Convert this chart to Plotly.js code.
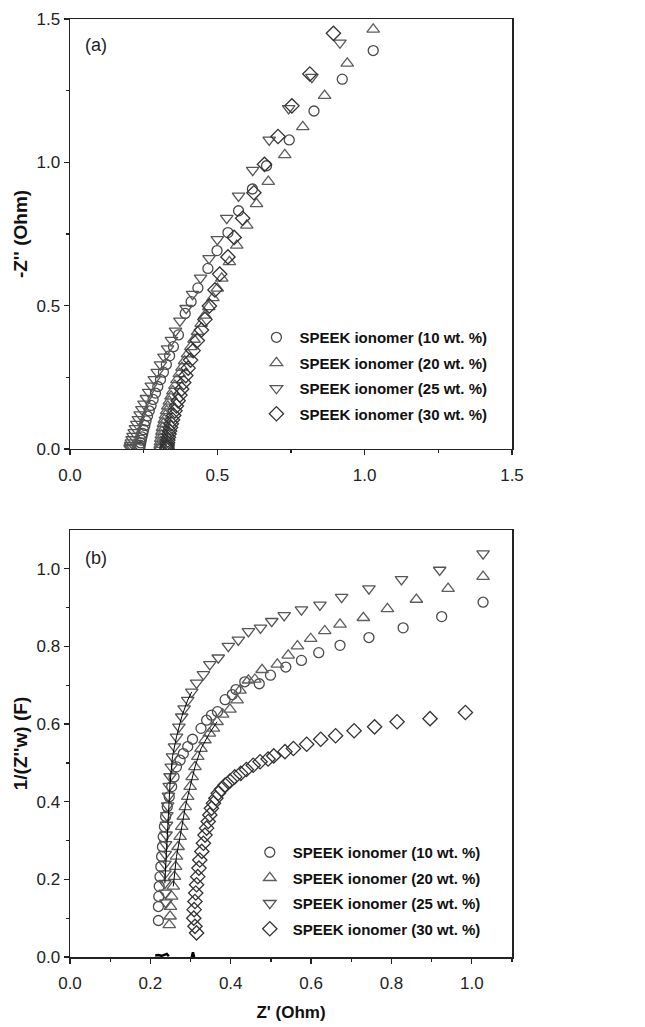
<!DOCTYPE html>
<html>
<head>
<meta charset="utf-8">
<script src="https://cdn.plot.ly/plotly-3.0.1.min.js"></script>
<style>html,body{margin:0;padding:0;background:#fff;}#chart{width:645px;height:1027px;}</style>
</head>
<body>
<div id="chart"></div>
<script>
// ---------- Panel (a): Nyquist, -Z'' vs Z' ----------
const seriesNames = ["SPEEK ionomer (10 wt. %)", "SPEEK ionomer (20 wt. %)", "SPEEK ionomer (25 wt. %)", "SPEEK ionomer (30 wt. %)"];

const a10x = [1.029,0.924,0.828,0.744,0.667,0.619,0.572,0.536,0.499,0.468,0.434,0.411,0.391,0.368,0.351,0.338,0.327,0.317,0.307,0.298,0.290,0.282,0.275,0.269,0.263,0.258,0.254,0.250,0.247,0.244,0.242,0.240,0.238,0.237,0.236];
const a10y = [1.390,1.290,1.179,1.078,0.988,0.907,0.831,0.755,0.692,0.630,0.562,0.514,0.473,0.398,0.357,0.325,0.295,0.268,0.242,0.218,0.195,0.173,0.152,0.133,0.115,0.098,0.082,0.067,0.054,0.042,0.031,0.021,0.013,0.006,0.002];

const a20x = [1.029,0.941,0.864,0.790,0.729,0.673,0.633,0.600,0.566,0.541,0.515,0.500,0.485,0.471,0.458,0.445,0.433,0.421,0.410,0.399,0.389,0.380,0.371,0.363,0.356,0.349,0.343,0.337,0.332,0.328,0.324,0.320,0.317,0.314,0.312,0.310,0.308,0.307,0.306,0.305,0.305];
const a20y = [1.464,1.345,1.233,1.124,1.026,0.933,0.855,0.780,0.710,0.653,0.595,0.560,0.527,0.496,0.466,0.437,0.409,0.382,0.356,0.331,0.307,0.284,0.262,0.241,0.221,0.202,0.184,0.166,0.149,0.133,0.117,0.102,0.088,0.074,0.061,0.048,0.036,0.025,0.015,0.007,0.002];

const a25x = [0.916,0.821,0.742,0.676,0.620,0.572,0.532,0.500,0.472,0.443,0.416,0.394,0.373,0.358,0.344,0.331,0.319,0.307,0.296,0.286,0.276,0.267,0.259,0.251,0.244,0.238,0.232,0.227,0.222,0.218,0.214,0.211,0.208,0.206,0.205,0.204];
const a25y = [1.417,1.297,1.188,1.078,0.973,0.883,0.805,0.731,0.665,0.597,0.540,0.491,0.447,0.412,0.380,0.350,0.321,0.294,0.268,0.243,0.220,0.198,0.177,0.157,0.138,0.120,0.103,0.087,0.072,0.058,0.045,0.033,0.022,0.013,0.006,0.002];

const a30x = [0.894,0.814,0.753,0.706,0.660,0.624,0.586,0.557,0.536,0.508,0.492,0.473,0.458,0.446,0.432,0.418,0.409,0.401,0.393,0.386,0.379,0.373,0.367,0.361,0.356,0.352,0.348,0.344,0.341,0.338,0.336,0.334,0.332,0.331,0.330,0.329,0.329];
const a30y = [1.450,1.308,1.197,1.090,0.993,0.894,0.805,0.738,0.670,0.610,0.555,0.499,0.452,0.415,0.378,0.343,0.310,0.282,0.256,0.232,0.209,0.188,0.168,0.150,0.133,0.117,0.102,0.088,0.075,0.063,0.052,0.041,0.031,0.022,0.014,0.007,0.002];

// ---------- Panel (b): 1/(Z''w) vs Z' ----------
const b10x = [1.028,0.925,0.829,0.744,0.672,0.619,0.576,0.537,0.499,0.471,0.435,0.413,0.404,0.386,0.367,0.352,0.340,0.326,0.305,0.293,0.282,0.274,0.265,0.259,0.253,0.247,0.242,0.238,0.235,0.232,0.230,0.228,0.226,0.224,0.222,0.221,0.220,0.220];
const b10y = [0.914,0.877,0.848,0.823,0.803,0.784,0.764,0.747,0.726,0.704,0.709,0.689,0.676,0.663,0.632,0.623,0.610,0.589,0.561,0.542,0.524,0.507,0.490,0.464,0.439,0.413,0.387,0.362,0.336,0.310,0.284,0.259,0.233,0.207,0.182,0.156,0.130,0.094];

const b20x = [1.028,0.941,0.862,0.790,0.730,0.672,0.634,0.599,0.566,0.543,0.516,0.478,0.460,0.444,0.423,0.416,0.398,0.380,0.366,0.357,0.347,0.336,0.326,0.318,0.311,0.304,0.299,0.293,0.287,0.282,0.278,0.274,0.269,0.265,0.263,0.260,0.257,0.253,0.250,0.249,0.247];
const b20y = [0.980,0.949,0.921,0.897,0.874,0.857,0.840,0.820,0.801,0.777,0.754,0.740,0.715,0.713,0.687,0.662,0.638,0.625,0.606,0.589,0.576,0.559,0.537,0.516,0.490,0.464,0.439,0.413,0.387,0.362,0.336,0.310,0.284,0.259,0.233,0.207,0.182,0.156,0.130,0.105,0.083];

const b25x = [1.028,0.920,0.825,0.744,0.676,0.622,0.576,0.533,0.502,0.474,0.444,0.419,0.394,0.369,0.348,0.332,0.315,0.303,0.293,0.284,0.278,0.271,0.265,0.260,0.255,0.252,0.249,0.247,0.245,0.243,0.241,0.240,0.239,0.238,0.237,0.236,0.236,0.236,0.237,0.239];
const b25y = [1.039,0.997,0.973,0.949,0.927,0.907,0.895,0.880,0.865,0.848,0.839,0.817,0.801,0.771,0.754,0.728,0.706,0.683,0.662,0.640,0.619,0.593,0.567,0.542,0.516,0.490,0.465,0.440,0.415,0.390,0.365,0.340,0.315,0.290,0.265,0.240,0.215,0.190,0.165,0.140];

const b30x = [0.984,0.896,0.814,0.758,0.707,0.661,0.624,0.589,0.556,0.535,0.507,0.493,0.473,0.456,0.439,0.425,0.410,0.398,0.386,0.377,0.369,0.363,0.357,0.352,0.348,0.344,0.340,0.336,0.332,0.328,0.323,0.321,0.318,0.315,0.313,0.311,0.309,0.308,0.311,0.315];
const b30y = [0.630,0.614,0.606,0.593,0.583,0.570,0.561,0.548,0.537,0.529,0.518,0.510,0.503,0.494,0.483,0.473,0.464,0.453,0.443,0.432,0.422,0.409,0.396,0.383,0.366,0.349,0.332,0.314,0.293,0.272,0.250,0.229,0.207,0.186,0.165,0.143,0.122,0.100,0.079,0.062];

// thin black fit lines and near-zero traces in panel (b)
const fit25x = [0.236,0.240,0.245,0.249,0.255,0.265,0.278,0.293,0.303];
const fit25y = [0.190,0.276,0.362,0.447,0.516,0.567,0.619,0.662,0.683];
const fit20x = [0.257,0.265,0.274,0.287,0.299,0.311,0.326,0.347,0.366];
const fit20y = [0.182,0.259,0.310,0.387,0.439,0.490,0.537,0.576,0.606];
const zeroX = [0.212,0.220,0.228,0.236,0.241,0.246,null,0.303,0.306,0.309];
const zeroY = [0.004,0.005,0.003,0.006,0.008,0.002,null,0.000,0.012,0.000];

const symbols = ["circle-open","triangle-up-open","triangle-down-open","diamond-open"];
const colors = ["#4a4a4a","#5e5e5e","#555555","#333333"];
const sizes = [10,11,11,11];

const aData = [[a10x,a10y],[a20x,a20y],[a25x,a25y],[a30x,a30y]];
const bData = [[b10x,b10y],[b20x,b20y],[b25x,b25y],[b30x,b30y]];

const traces = [];
aData.forEach((d,i)=>{
  traces.push({x:d[0], y:d[1], type:'scatter', mode:'markers', name:seriesNames[i],
    xaxis:'x', yaxis:'y', legend:'legend', legendgroup:'a'+i,
    marker:{symbol:symbols[i], size:sizes[i], color:colors[i], line:{width:1.3, color:colors[i]}}});
});
bData.forEach((d,i)=>{
  traces.push({x:d[0], y:d[1], type:'scatter', mode:'markers', name:seriesNames[i],
    xaxis:'x2', yaxis:'y2', legend:'legend2', legendgroup:'b'+i,
    marker:{symbol:symbols[i], size:sizes[i], color:colors[i], line:{width:1.3, color:colors[i]}}});
});
traces.push({x:fit25x, y:fit25y, type:'scatter', mode:'lines', xaxis:'x2', yaxis:'y2', showlegend:false, line:{color:'#000', width:1}, hoverinfo:'skip'});
traces.push({x:fit20x, y:fit20y, type:'scatter', mode:'lines', xaxis:'x2', yaxis:'y2', showlegend:false, line:{color:'#000', width:1}, hoverinfo:'skip'});
traces.push({x:zeroX, y:zeroY, type:'scatter', mode:'lines', xaxis:'x2', yaxis:'y2', showlegend:false, line:{color:'#000', width:2.5}, hoverinfo:'skip', cliponaxis:false});

const fam = '"Liberation Sans", Arial, sans-serif';
const tickFont = {family:fam, size:17, color:'#222'};
const titleFont = {family:fam, size:17, color:'#111', weight:'bold'};
const yTitleFont = {family:fam, size:19, color:'#111', weight:'bold'};
const axisCommon = {showline:true, mirror:true, linecolor:'#222', linewidth:1.5, ticks:'outside', ticklen:5, tickwidth:1.3, tickcolor:'#222',
  showgrid:false, zeroline:false, tickfont:tickFont, fixedrange:true};

const legendCommon = {font:{family:fam, size:15, color:'#111', weight:'bold'},
  bgcolor:'rgba(0,0,0,0)', borderwidth:0, tracegroupgap:3, itemwidth:36, xanchor:'left', yanchor:'top'};

const layout = {
  width:645, height:1027,
  margin:{l:70, r:133, t:19, b:70},
  paper_bgcolor:'#fff', plot_bgcolor:'#fff',
  showlegend:true,
  xaxis: Object.assign({}, axisCommon, {domain:[0,1], range:[0,1.5], tickvals:[0,0.5,1.0,1.5], ticktext:['0.0','0.5','1.0','1.5'],
    minor:{tickvals:[0.25,0.75,1.25], ticklen:3, tickwidth:1.2, tickcolor:'#222', ticks:'outside'}, anchor:'y', ticklabelstandoff:5}),
  yaxis: Object.assign({}, axisCommon, {domain:[0.5416,1], range:[0,1.5], tickvals:[0,0.5,1.0,1.5], ticktext:['0.0','0.5','1.0','1.5'],
    minor:{tickvals:[0.25,0.75,1.25], ticklen:3, tickwidth:1.2, tickcolor:'#222', ticks:'outside'}, anchor:'x',
    title:{text:"-Z'' (Ohm)", font:yTitleFont, standoff:4}}),
  xaxis2: Object.assign({}, axisCommon, {domain:[0,1], range:[0,1.1], tickvals:[0,0.2,0.4,0.6,0.8,1.0], ticktext:['0.0','0.2','0.4','0.6','0.8','1.0'],
    minor:{tickvals:[0.1,0.3,0.5,0.7,0.9,1.1], ticklen:3, tickwidth:1.2, tickcolor:'#222', ticks:'outside'}, anchor:'y2', ticklabelstandoff:5,
    title:{text:"Z' (Ohm)", font:titleFont, standoff:14}}),
  yaxis2: Object.assign({}, axisCommon, {domain:[0,0.4552], range:[0,1.1], tickvals:[0,0.2,0.4,0.6,0.8,1.0], ticktext:['0.0','0.2','0.4','0.6','0.8','1.0'],
    minor:{tickvals:[0.1,0.3,0.5,0.7,0.9], ticklen:3, tickwidth:1.2, tickcolor:'#222', ticks:'outside'}, anchor:'x2',
    title:{text:"1/(Z''w) (F)", font:yTitleFont, standoff:4}}),
  legend: Object.assign({}, legendCommon, {x:0.415, y:0.678}),
  legend2: Object.assign({}, legendCommon, {x:0.40, y:0.129}),
  annotations:[
    {text:'(a)', xref:'x domain', yref:'y domain', x:0.03, y:0.94, showarrow:false, xanchor:'left', yanchor:'middle', font:{family:fam, size:18, color:'#222'}},
    {text:'(b)', xref:'x2 domain', yref:'y2 domain', x:0.03, y:0.935, showarrow:false, xanchor:'left', yanchor:'middle', font:{family:fam, size:18, color:'#222'}}
  ]
};

Plotly.newPlot('chart', traces, layout, {displayModeBar:false, staticPlot:true});
</script>
</body>
</html>
